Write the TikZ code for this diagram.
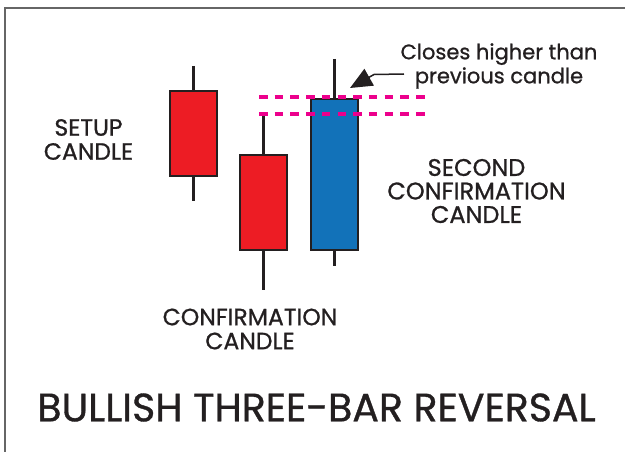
\documentclass[tikz,border=0pt]{standalone}
\usepackage{fontspec}
\setmainfont{Poppins}[FakeBold=0.9]
\usetikzlibrary{arrows.meta}
\definecolor{ink}{HTML}{231F20}
\definecolor{candlered}{HTML}{ED1C24}
\definecolor{candleblue}{HTML}{1272B9}
\definecolor{guide}{HTML}{EC008C}
\begin{document}
\begin{tikzpicture}[x=1pt, y=-1pt,
    body/.style={draw=ink, line width=2.5pt, minimum width=47pt, inner sep=0pt},
    wick/.style={draw=ink, line width=2.5pt},
    label/.style={text=ink, align=center, font=\fontsize{23.5}{24}\selectfont},
    guideline/.style={guide, line width=3.2pt, dash pattern=on 8.5pt off 7.2pt}]
    \useasboundingbox (0,0) rectangle (625,452);
    % Frame
    \draw[gray!80!black, line width=2pt] (4.5,452) -- (4.5,8.5) -- (625,8.5);
    % Setup candle
    \coordinate (setuphigh) at (193.5,66);
    \coordinate (setuplow) at (193.5,201);
    \draw[wick] (setuphigh) -- (setuplow);
    \node[body, fill=candlered, minimum height=85pt] (setup) at (193.5,133.5) {};
    % Confirmation candle
    \coordinate (confhigh) at (263.5,116);
    \coordinate (conflow) at (263.5,290);
    \draw[wick] (confhigh) -- (conflow);
    \node[body, fill=candlered, minimum height=95pt] (conf) at (263.5,202.5) {};
    % Second confirmation candle
    \coordinate (secondhigh) at (334.5,59);
    \coordinate (secondlow) at (334.5,266);
    \draw[wick] (secondhigh) -- (secondlow);
    \node[body, fill=candleblue, minimum height=151pt] (second) at (334.5,174.5) {};
    % Previous high / close
    \coordinate (guideAa) at (259,97);  \coordinate (guideAb) at (425,97);
    \coordinate (guideBa) at (259,114); \coordinate (guideBb) at (425,114);
    \draw[guideline] (guideAa) -- (guideAb);
    \draw[guideline] (guideBa) -- (guideBb);
    % Labels
    \node[label] (setuplabel) at (88.5,139.5) {SETUP\\CANDLE};
    \node[label] (conflabel) at (250,329) {CONFIRMATION\\CANDLE};
    \node[label, font=\fontsize{24}{23.5}\selectfont] (secondlabel) at (476.5,191) {SECOND\\CONFIRMATION\\CANDLE};
    \node[label, font=\fontsize{21}{24}\selectfont] (note) at (499,66) {Closes higher than\\previous candle};
    \node[text=ink, font=\fontsize{39.5}{44}\selectfont] (title) at (316.5,407.5) {BULLISH THREE-BAR REVERSAL};
    % Arrow
    \coordinate (arrowstart) at (404,74);
    \coordinate (arrowbend) at (374,74.5);
    \coordinate (arrowtip) at (350,88);
    \draw[ink, line width=1.5pt, -{Triangle[length=22pt, width=19pt]}]
        (arrowstart) -- (arrowbend) -- (arrowtip);
\end{tikzpicture}
\end{document}
